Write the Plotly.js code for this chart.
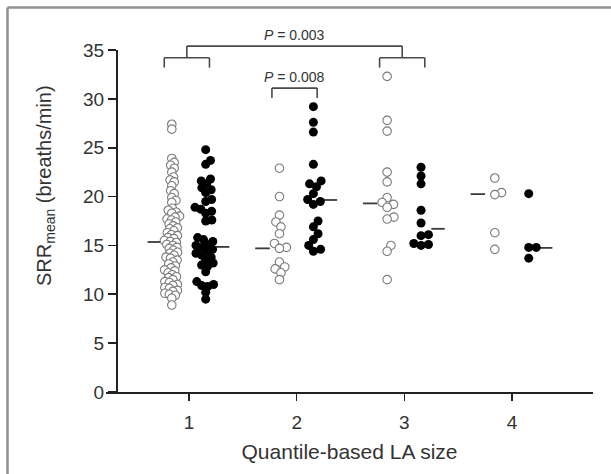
<!DOCTYPE html>
<html><head><meta charset="utf-8">
<script src="https://cdn.plot.ly/plotly-3.0.1.min.js"></script>
<style>
html,body{margin:0;padding:0;background:#fff;overflow:hidden;}
#chart{width:611px;height:474px;}
</style></head><body>
<div id="chart"></div>
<script>
// ---- data ----
const groups = [1, 2, 3, 4];
const tickLabels = ['1', '2', '3', '4'];
const open1 = [27.4, 26.9, 23.9, 23.5, 23.2, 22.9, 22.5, 22.0, 21.7, 21.5, 21.1, 20.6, 20.3, 19.9, 19.6, 19.4,
  18.8, 18.6, 18.4, 18.3, 18.0, 17.9, 17.7, 17.6, 17.4, 17.2, 17.0, 16.8, 16.7, 16.5, 16.3, 16.1, 16.0, 15.8, 15.7, 15.5, 15.4,
  15.3, 15.1, 15.0, 14.8, 14.7, 14.5, 14.3, 14.2, 14.0, 13.8, 13.7, 13.5, 13.3, 13.1, 12.9, 12.7, 12.5, 12.4, 12.2, 12.0,
  11.8, 11.7, 11.5, 11.3, 11.2, 11.0, 10.9, 10.7, 10.6, 10.4, 10.3, 10.1, 10.0, 9.9, 9.6, 8.9];
const open2 = [22.9, 20.0, 18.1, 17.4, 16.9, 16.2, 15.2, 14.8, 14.7, 13.3, 12.8, 12.6, 12.2, 11.5];
const open3 = [32.3, 27.8, 26.7, 22.5, 21.5, 19.9, 19.4, 19.2, 18.9, 17.9, 17.7, 15.0, 14.4, 11.5];
const open4 = [21.9, 20.4, 20.2, 16.3, 14.6];
const filled1 = [24.8, 23.7, 23.3, 21.8, 21.6, 21.3, 20.9, 20.7, 20.4, 19.7, 19.5, 18.9, 18.7, 18.5, 18.3, 17.6, 17.5,
  15.8, 15.6, 15.4, 15.1, 15.0, 14.8, 14.6, 14.4, 14.2, 14.0, 13.8, 13.5, 13.2, 13.0, 12.9, 12.3, 11.3, 11.0, 10.9, 10.8, 10.2, 9.5];
const filled2 = [29.2, 27.6, 26.6, 23.3, 21.6, 21.3, 21.0, 20.3, 19.7, 19.5, 19.2, 17.5, 16.9, 16.2, 15.6, 15.0, 14.6, 14.4];
const filled3 = [23.0, 22.1, 21.3, 18.6, 17.3, 16.1, 16.0, 15.2, 15.1, 15.0];
const filled4 = [20.3, 14.8, 14.8, 13.7];
const openMedians = [15.35, 14.7, 19.3, 20.25];
const filledMedians = [14.85, 19.65, 16.7, 14.75];
const pLabels = ['0.003', '0.008'];

// ---- layout geometry ----
const W = 611, H = 474;
const M = {l: 106, r: 18, t: 50, b: 82};
const X0 = 0.229, X1 = 4.752, Y0 = 0, Y1 = 35;
const PW = W - M.l - M.r, PH = H - M.t - M.b;
const pxX = PW / (X1 - X0), pxY = PH / (Y1 - Y0);
const OPEN_SHIFT = -0.16, FILLED_SHIFT = 0.155;
const FONT = 'Liberation Sans, Arial, Helvetica, sans-serif';

function swarm(vals, d) {
  const idx = vals.map((v, i) => i).sort((a, b) => vals[a] - vals[b]);
  const placed = [], off = new Array(vals.length);
  idx.forEach(i => {
    const y = vals[i] * pxY;
    const iv = [], cand = [0];
    placed.forEach(p => {
      const dy = Math.abs(p.y - y);
      if (dy < d) { const dx = Math.sqrt(d * d - dy * dy); iv.push([p.x - dx, p.x + dx]); cand.push(p.x - dx, p.x + dx); }
    });
    cand.sort((a, b) => Math.abs(a) - Math.abs(b) || b - a);
    const x = cand.find(c => iv.every(([a, b]) => c <= a + 1e-6 || c >= b - 1e-6));
    off[i] = x; placed.push({x, y});
  });
  return off;
}
function points(sets, shift, ds) {
  const xs = [], ys = [];
  sets.forEach((vals, k) => {
    const off = swarm(vals, ds[k]);
    vals.forEach((v, i) => { xs.push(groups[k] + shift + off[i] / pxX); ys.push(v); });
  });
  return {xs, ys};
}
function medLine(meds, a, b) {
  const xs = [], ys = [];
  meds.forEach((m, k) => { xs.push(groups[k] + a, groups[k] + b, null); ys.push(m, m, null); });
  return {xs, ys};
}
const op = points([open1, open2, open3, open4], OPEN_SHIFT, [4.6, 7, 7, 7]);
const fp = points([filled1, filled2, filled3, filled4], FILLED_SHIFT, [6.2, 7.5, 7.5, 7.5]);
const om = medLine(openMedians, -0.385, -0.25);
const fm = medLine(filledMedians, 0.25, 0.375);

const traces = [
  {x: om.xs, y: om.ys, mode: 'lines', line: {color: '#3a3a3a', width: 1.8}, hoverinfo: 'skip', showlegend: false},
  {x: fm.xs, y: fm.ys, mode: 'lines', line: {color: '#3a3a3a', width: 1.8}, hoverinfo: 'skip', showlegend: false},
  {x: op.xs, y: op.ys, mode: 'markers', marker: {size: 8.5, color: '#ffffff', line: {color: '#7a7a7a', width: 1.1}}, showlegend: false},
  {x: fp.xs, y: fp.ys, mode: 'markers', marker: {size: 9, color: '#000000', line: {width: 0}}, showlegend: false}
];

// brackets (paper coordinates derived from data scales)
const px = v => (v - X0) / (X1 - X0), py = v => (v - Y0) / (Y1 - Y0);
const LINE = {color: '#4a4a4a', width: 1.6};
function sub(g, yTop) {
  const a = g - 0.23, b = g + 0.19;
  return [
    {type: 'line', xref: 'paper', yref: 'paper', x0: px(a), x1: px(b), y0: py(yTop), y1: py(yTop), line: LINE},
    {type: 'line', xref: 'paper', yref: 'paper', x0: px(a), x1: px(a), y0: py(yTop), y1: py(yTop - 1.0), line: LINE},
    {type: 'line', xref: 'paper', yref: 'paper', x0: px(b), x1: px(b), y0: py(yTop), y1: py(yTop - 1.0), line: LINE}
  ];
}
const midA = groups[0] - 0.02, midB = groups[2] - 0.02;
// outer figure frame (left and top edges of the boxed figure)
const FR = {color: '#8f8f8f', width: 2.5};
const fx = p => (p - M.l) / PW, fy = p => (H - M.b - p) / PH;
const frame = [
  {type: 'line', xref: 'paper', yref: 'paper', x0: fx(7.5), x1: fx(7.5), y0: fy(7.5), y1: fy(H + 5), line: FR},
  {type: 'line', xref: 'paper', yref: 'paper', x0: fx(7.5), x1: fx(W + 5), y0: fy(7.5), y1: fy(7.5), line: FR}
];
const shapes = [].concat(
  frame,
  sub(groups[0], 34.2), sub(groups[2], 34.2), sub(groups[1], 31.1),
  [
    {type: 'line', xref: 'paper', yref: 'paper', x0: px(midA), x1: px(midB), y0: py(35.4), y1: py(35.4), line: LINE},
    {type: 'line', xref: 'paper', yref: 'paper', x0: px(midA), x1: px(midA), y0: py(35.4), y1: py(34.2), line: LINE},
    {type: 'line', xref: 'paper', yref: 'paper', x0: px(midB), x1: px(midB), y0: py(35.4), y1: py(34.2), line: LINE}
  ]
);
const annotations = [
  {xref: 'paper', yref: 'paper', x: px((midA + midB) / 2), y: py(35.5), yanchor: 'bottom', showarrow: false,
   text: '<i>P</i> = ' + pLabels[0], font: {family: FONT, size: 14, color: '#333'}},
  {xref: 'paper', yref: 'paper', x: px(groups[1] - 0.02), y: py(31.2), yanchor: 'bottom', showarrow: false,
   text: '<i>P</i> = ' + pLabels[1], font: {family: FONT, size: 14, color: '#333'}},
  {xref: 'paper', yref: 'paper', x: fx(45), y: fy(186), xanchor: 'center', yanchor: 'middle',
   textangle: -90, showarrow: false, text: 'SRR<sub>mean</sub> (breaths/min)', font: {family: FONT, size: 20, color: '#333'}}
];

const layout = {
  width: W, height: H, margin: M,
  paper_bgcolor: '#ffffff', plot_bgcolor: 'rgba(0,0,0,0)',
  font: {family: FONT, color: '#333'},
  xaxis: {range: [X0, X1], tickvals: groups, ticktext: tickLabels, ticks: 'outside', ticklen: 7, tickwidth: 1.6, tickcolor: '#222',
    showline: true, linecolor: '#222', linewidth: 1.6, showgrid: false, zeroline: false, ticklabelstandoff: 6,
    tickfont: {family: FONT, size: 19, color: '#333'},
    title: {text: 'Quantile-based LA size', font: {family: FONT, size: 21, color: '#333'}, standoff: 12}},
  yaxis: {range: [Y0, Y1], dtick: 5, tick0: 0, ticks: 'outside', ticklen: 8, tickwidth: 1.6, tickcolor: '#222',
    showline: true, linecolor: '#222', linewidth: 1.6, showgrid: false, zeroline: false,
    anchor: 'free', position: (116 - M.l) / PW,
    tickfont: {family: FONT, size: 19, color: '#333'}},
  shapes, annotations, showlegend: false
};
Plotly.newPlot('chart', traces, layout, {displayModeBar: false, staticPlot: true});
</script>
</body></html>
